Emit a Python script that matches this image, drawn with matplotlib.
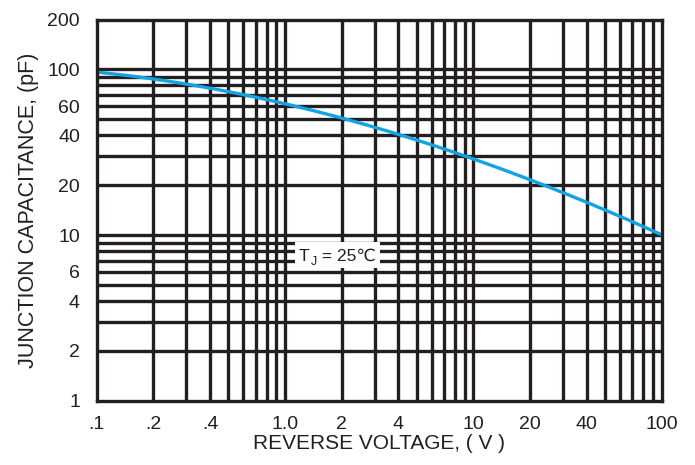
import matplotlib
matplotlib.use("Agg")
import matplotlib.pyplot as plt
from matplotlib.patches import Rectangle
import numpy as np

plt.rcParams['font.family'] = ['Liberation Sans Narrow', 'Liberation Sans', 'DejaVu Sans']

# data
voltage = [0.1, 0.2, 0.5, 1.0, 2.0, 3.0, 5.0, 10.0, 20.0, 50.0, 100.0]
capacitance = [97, 88, 71, 62, 51, 46, 38, 29, 21, 14, 10.2]

x_grid = [0.2, 0.3, 0.4, 0.5, 0.6, 0.7, 0.8, 0.9, 1, 2, 3, 4, 5, 6, 7, 8, 9, 10,
          20, 30, 40, 50, 60, 70, 80, 90]
y_grid = [2, 3, 4, 5, 6, 7, 8, 9, 10, 20, 30, 40, 50, 60, 70, 80, 90, 100]
x_ticks = [0.1, 0.2, 0.4, 1, 2, 4, 10, 20, 40, 100]
x_labels = ['.1', '.2', '.4', '1.0', '2', '4', '10', '20', '40', '100']
y_ticks = [1, 2, 4, 6, 10, 20, 40, 60, 100, 200]
y_labels = ['1', '2', '4', '6', '10', '20', '40', '60', '100', '200']

fig = plt.figure(figsize=(6.95, 4.65), dpi=100)
ax = fig.add_axes([0.139, 0.138, 0.813, 0.820])
ax.set_xscale('log')
ax.set_yscale('log')
ax.set_xlim(0.1, 100)
ax.set_ylim(1, 200)

gc = '#231f20'
for xv in x_grid:
    ax.axvline(xv, color=gc, lw=2.4, zorder=1)
for yv in y_grid:
    ax.axhline(yv, color=gc, lw=2.4, zorder=1)

# smooth curve in log space
lx = np.log10(voltage)
ly = np.log10(capacitance)
xs = np.linspace(lx[0], lx[-1], 300)
coef = np.polyfit(lx, ly, 3)
ys = np.polyval(coef, xs)
ax.plot(10**xs, 10**ys, color='#12a3e3', lw=2.4, zorder=3, solid_capstyle='butt')

# annotation box: T_J = 25 degC
ax.add_patch(Rectangle((0.351, 0.349), 0.151, 0.067, transform=ax.transAxes,
                       facecolor='white', edgecolor='none', zorder=4))
base_y = 0.367
t1 = ax.text(0.358, base_y, 'T', transform=ax.transAxes, ha='left', va='baseline',
             fontsize=12.5, color=gc, zorder=5)
t2 = ax.annotate('J', xy=(1.0, base_y), xycoords=(t1, 'axes fraction'),
                 xytext=(0.6, -3.2), textcoords='offset points',
                 ha='left', va='baseline', fontsize=9, color=gc, zorder=5)
t3 = ax.annotate(' = 25℃', xy=(1.0, base_y), xycoords=(t2, 'axes fraction'),
                 xytext=(0.5, 0), textcoords='offset points',
                 ha='left', va='baseline', fontsize=12.5, color=gc, zorder=5)

ax.minorticks_off()
ax.set_xticks(x_ticks)
ax.set_xticklabels(x_labels)
ax.set_yticks(y_ticks)
ax.set_yticklabels(y_labels)
ax.tick_params(length=0, labelsize=14, colors=gc)
ax.tick_params(axis='x', pad=11)
ax.tick_params(axis='y', pad=12)
for s in ax.spines.values():
    s.set_linewidth(2.4)
    s.set_color(gc)
    s.set_zorder(6)

ax.set_xlabel('REVERSE VOLTAGE, ( V )', fontsize=15, color=gc, labelpad=1)
ax.set_ylabel('JUNCTION CAPACITANCE, (pF)', fontsize=15.5, color=gc, labelpad=6)

fig.savefig('out.png', dpi=100, facecolor='white')
